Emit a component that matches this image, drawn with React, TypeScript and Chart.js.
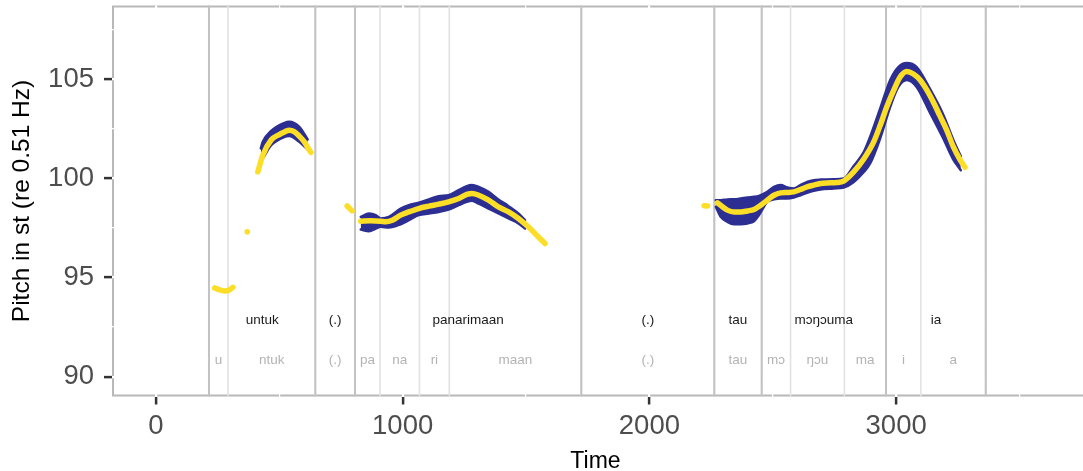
import React, { useEffect, useRef } from 'react';
import { Chart, registerables } from 'chart.js';

Chart.register(...registerables);

// ---------- pitch contour (yellow) ----------
const uFragTime = [238, 258, 278, 296, 312];
const uFragPitch = [94.47, 94.37, 94.32, 94.36, 94.5];
const dotTime = [370];
const dotPitch = [97.3];
const untukTime = [413, 433, 467, 500, 521, 541, 560, 581, 600, 615, 628];
const untukPitch = [100.32, 101.16, 101.92, 102.2, 102.33, 102.42, 102.35, 102.12, 101.85, 101.55, 101.3];
const pauseFragTime = [775, 795];
const pauseFragPitch = [98.6, 98.35];
const panarimaanTime = [830, 870, 911, 931, 958, 992, 1025, 1065, 1106, 1146, 1186, 1227, 1260, 1281, 1308, 1348, 1388, 1429, 1469, 1509, 1550, 1577];
const panarimaanPitch = [97.83, 97.85, 97.83, 97.8, 97.88, 98.14, 98.3, 98.47, 98.59, 98.69, 98.81, 98.98, 99.18, 99.23, 99.14, 98.89, 98.55, 98.3, 97.97, 97.55, 97.04, 96.71];
const preTauTime = [2222, 2236];
const preTauPitch = [98.61, 98.6];
const tauIaTime = [2276, 2296, 2316, 2343, 2370, 2397, 2424, 2451, 2478, 2505, 2532, 2559, 2585, 2612, 2639, 2666, 2693, 2720, 2760, 2787, 2827, 2868, 2908, 2935, 2962, 2989, 3016, 3043, 3070, 3097, 3124, 3150, 3177, 3204, 3231, 3258, 3279];
const tauIaPitch = [98.76, 98.56, 98.39, 98.3, 98.3, 98.35, 98.42, 98.64, 98.89, 99.14, 99.26, 99.28, 99.31, 99.43, 99.56, 99.65, 99.73, 99.76, 99.78, 99.85, 100.3, 100.95, 101.8, 102.65, 103.6, 104.4, 105.1, 105.38, 105.25, 104.95, 104.45, 103.85, 103.15, 102.45, 101.6, 100.95, 100.55];

// ---------- spread band (blue) ----------
const untukBandTime = [425, 433, 467, 521, 541, 581, 615];
const untukBandHigh = [101.5, 101.83, 102.38, 102.79, 102.84, 102.58, 101.95];
const untukBandLow = [100.85, 100.99, 101.66, 102.08, 102.12, 101.83, 101.45];
const panarimaanBandTime = [830, 864, 891, 911, 944, 992, 1025, 1065, 1106, 1146, 1186, 1227, 1260, 1281, 1308, 1348, 1388, 1429, 1469, 1496];
const panarimaanBandHigh = [98.05, 98.22, 98.14, 97.97, 98.05, 98.47, 98.64, 98.76, 98.93, 99.09, 99.14, 99.4, 99.6, 99.65, 99.56, 99.31, 98.93, 98.59, 98.22, 97.88];
const panarimaanBandLow = [97.41, 97.33, 97.46, 97.55, 97.51, 97.68, 97.88, 98.14, 98.22, 98.3, 98.42, 98.64, 98.81, 98.86, 98.72, 98.47, 98.22, 97.97, 97.72, 97.46];
const tauIaBandTime = [2269, 2289, 2316, 2343, 2370, 2397, 2424, 2444, 2478, 2505, 2532, 2559, 2585, 2612, 2639, 2666, 2693, 2747, 2787, 2827, 2868, 2895, 2935, 2976, 3009, 3043, 3083, 3137, 3191, 3231, 3262];
const tauIaBandHigh = [98.89, 98.89, 98.93, 98.94, 98.98, 99.03, 99.06, 99.11, 99.31, 99.56, 99.65, 99.53, 99.48, 99.65, 99.81, 99.9, 99.93, 99.95, 99.98, 100.6, 101.3, 102.1, 103.5, 104.95, 105.6, 105.8, 105.6, 104.5, 103.2, 101.95, 101.1];
const tauIaBandLow = [98.56, 98.05, 97.8, 97.68, 97.68, 97.72, 97.83, 98.14, 98.81, 98.93, 98.98, 98.98, 99.03, 99.14, 99.26, 99.36, 99.43, 99.48, 99.53, 99.8, 100.3, 100.75, 102.0, 103.6, 104.6, 104.95, 104.6, 103.3, 102.0, 100.95, 100.4];

// ---------- annotation tiers ----------
const wordLabels = ['untuk', '(.)', 'panarimaan', '(.)', 'tau', 'mɔŋɔuma', 'ia'];
const wordBounds = [215, 646, 807, 1724, 2263, 2455, 2959, 3363];
const syllableLabels = ['u', 'ntuk', '(.)', 'pa', 'na', 'ri', 'maan', '(.)', 'tau', 'mɔ', 'ŋɔu', 'ma', 'i', 'a'];
const syllableBounds = [215, 292, 646, 807, 908, 1068, 1189, 1724, 2263, 2455, 2572, 2790, 2959, 3100, 3363];

// ---------- axes ----------
const xTickLabels = [0, 1000, 2000, 3000];
const xGridValues = [0, 500, 1000, 1500, 2000, 2500, 3000, 3500];
const yTickLabels = [90, 95, 100, 105];
const yGridValues = [90, 92.5, 95, 97.5, 100, 102.5, 105, 107.5];

const YELLOW = '#FCDE26';
const BLUE = '#2D2E92';
const FONT = '"Liberation Sans", Arial, Helvetica, sans-serif';

const pitchSegments: [number[], number[]][] = [
  [uFragTime, uFragPitch],
  [dotTime, dotPitch],
  [untukTime, untukPitch],
  [pauseFragTime, pauseFragPitch],
  [panarimaanTime, panarimaanPitch],
  [preTauTime, preTauPitch],
  [tauIaTime, tauIaPitch],
];
const bandSegments: [number[], number[], number[]][] = [
  [untukBandTime, untukBandLow, untukBandHigh],
  [panarimaanBandTime, panarimaanBandLow, panarimaanBandHigh],
  [tauIaBandTime, tauIaBandLow, tauIaBandHigh],
];

const WORD_TIER_Y = 92.85;
const SYL_TIER_Y = 90.85;

const tierPlugin = {
  id: 'tiers',
  beforeDraw(chart: any) {
    const { ctx, chartArea: a } = chart;
    ctx.save();
    ctx.strokeStyle = '#B8B8B8';
    ctx.lineWidth = 2;
    ctx.beginPath();
    ctx.moveTo(a.right + 5, a.top + 1);
    ctx.lineTo(a.left + 1, a.top + 1);
    ctx.lineTo(a.left + 1, a.bottom - 1);
    ctx.lineTo(a.right + 5, a.bottom - 1);
    ctx.stroke();
    ctx.restore();
  },
  beforeDatasetsDraw(chart: any) {
    const { ctx, chartArea: a, scales } = chart;
    const xs = scales.x;
    ctx.save();
    ctx.lineWidth = 1.6;
    ctx.strokeStyle = '#E2E2E2';
    syllableBounds.forEach((t) => {
      const px = xs.getPixelForValue(t);
      ctx.beginPath();
      ctx.moveTo(px, a.top);
      ctx.lineTo(px, a.bottom);
      ctx.stroke();
    });
    ctx.lineWidth = 2;
    ctx.strokeStyle = '#C2C2C2';
    wordBounds.forEach((t) => {
      const px = xs.getPixelForValue(t);
      ctx.beginPath();
      ctx.moveTo(px, a.top);
      ctx.lineTo(px, a.bottom);
      ctx.stroke();
    });
    ctx.restore();
  },
  afterDatasetsDraw(chart: any) {
    const { ctx, scales } = chart;
    const xs = scales.x;
    const ys = scales.y;
    ctx.save();
    ctx.font = `13.5px ${FONT}`;
    ctx.textAlign = 'center';
    ctx.textBaseline = 'middle';
    ctx.fillStyle = '#1A1A1A';
    const wy = ys.getPixelForValue(WORD_TIER_Y);
    wordLabels.forEach((w, i) => {
      const px = xs.getPixelForValue((wordBounds[i] + wordBounds[i + 1]) / 2);
      ctx.fillText(w, px, wy);
    });
    ctx.fillStyle = '#B3B3B3';
    const sy = ys.getPixelForValue(SYL_TIER_Y);
    syllableLabels.forEach((s, i) => {
      const px = xs.getPixelForValue((syllableBounds[i] + syllableBounds[i + 1]) / 2);
      ctx.fillText(s, px, sy);
    });
    ctx.restore();
  },
};

export default function App() {
  const ref = useRef<HTMLCanvasElement>(null);
  useEffect(() => {
    if (!ref.current) return;
    const datasets: any[] = [];
    pitchSegments.forEach(([t, p]) => {
      datasets.push({
        data: t.map((x, i) => ({ x, y: p[i] })),
        borderColor: YELLOW,
        backgroundColor: YELLOW,
        borderWidth: 5.5,
        borderCapStyle: 'round',
        borderJoinStyle: 'round',
        pointRadius: t.length === 1 ? 2.8 : 0,
        pointBackgroundColor: YELLOW,
        pointBorderWidth: 0,
        cubicInterpolationMode: 'monotone',
        fill: false,
        order: 0,
      });
    });
    bandSegments.forEach(([t, lo, hi]) => {
      datasets.push({
        data: t.map((x, i) => ({ x, y: lo[i] })),
        borderColor: BLUE,
        borderWidth: 2.5,
        borderCapStyle: 'round',
        borderJoinStyle: 'round',
        pointRadius: 0,
        cubicInterpolationMode: 'monotone',
        fill: false,
        order: 1,
      });
      datasets.push({
        data: t.map((x, i) => ({ x, y: hi[i] })),
        borderColor: BLUE,
        backgroundColor: BLUE,
        borderWidth: 2.5,
        borderCapStyle: 'round',
        borderJoinStyle: 'round',
        pointRadius: 0,
        cubicInterpolationMode: 'monotone',
        fill: '-1',
        order: 1,
      });
    });

    const isMajorX = (v: number) => xTickLabels.some((x) => Math.abs(x - v) < 1e-6);
    const isMajorY = (v: number) => yTickLabels.some((y) => Math.abs(y - v) < 1e-6);

    const chart = new Chart(ref.current, {
      type: 'line',
      data: { datasets },
      plugins: [tierPlugin],
      options: {
        animation: false,
        responsive: false,
        devicePixelRatio: 1,
        events: [],
        layout: { padding: { top: 5.5, left: 0, right: 0, bottom: 0 } },
        plugins: { legend: { display: false }, tooltip: { enabled: false } },
        scales: {
          x: {
            type: 'linear',
            min: -178,
            max: 3741,
            afterBuildTicks: (s: any) => { s.ticks = xGridValues.map((value) => ({ value })); },
            afterFit: (s: any) => { s.height = 74.5; s.paddingLeft = 0; s.paddingRight = 0; },
            border: { display: false },
            grid: {
              color: '#FFFFFF',
              lineWidth: (c: any) => (isMajorX(c.tick?.value) ? 2.2 : 1.2),
              tickColor: (c: any) => (isMajorX(c.tick?.value) ? '#333333' : 'rgba(0,0,0,0)'),
              tickWidth: 2.5,
              tickLength: 8,
              drawTicks: true,
            },
            ticks: {
              autoSkip: false,
              maxRotation: 0,
              padding: 5,
              color: '#4D4D4D',
              font: { family: FONT, size: 27.5 },
              callback: (v: any) => (isMajorX(Number(v)) ? String(v) : ''),
            },
            title: {
              display: true,
              text: 'Time',
              color: '#000000',
              font: { family: FONT, size: 23, lineHeight: 0.8 },
              padding: { top: 0, bottom: 0 },
            },
          },
          y: {
            type: 'linear',
            min: 89,
            max: 108.7,
            afterBuildTicks: (s: any) => { s.ticks = yGridValues.map((value) => ({ value })); },
            afterFit: (s: any) => { s.width = 112; s.paddingTop = 0; s.paddingBottom = 0; },
            border: { display: false },
            grid: {
              color: '#FFFFFF',
              lineWidth: (c: any) => (isMajorY(c.tick?.value) ? 2.2 : 1.2),
              tickColor: (c: any) => (isMajorY(c.tick?.value) ? '#333333' : 'rgba(0,0,0,0)'),
              tickWidth: 2.5,
              tickLength: 8,
              drawTicks: true,
            },
            ticks: {
              autoSkip: false,
              padding: 10,
              color: '#4D4D4D',
              font: { family: FONT, size: 27.5 },
              callback: (v: any) => (isMajorY(Number(v)) ? String(Math.round(Number(v))) : ''),
            },
            title: {
              display: true,
              text: 'Pitch in st (re 0.51 Hz)',
              color: '#000000',
              font: { family: FONT, size: 24.5, lineHeight: 1.2 },
              padding: { top: 8, bottom: 0 },
            },
          },
        },
      },
    } as any);
    return () => chart.destroy();
  }, []);

  return (
    <div style={{ position: 'fixed', left: 0, top: 0, width: 1083, height: 471, overflow: 'hidden', background: '#fff' }}>
      <canvas ref={ref} width={1083} height={471} style={{ width: 1083, height: 471, display: 'block' }} />
    </div>
  );
}
